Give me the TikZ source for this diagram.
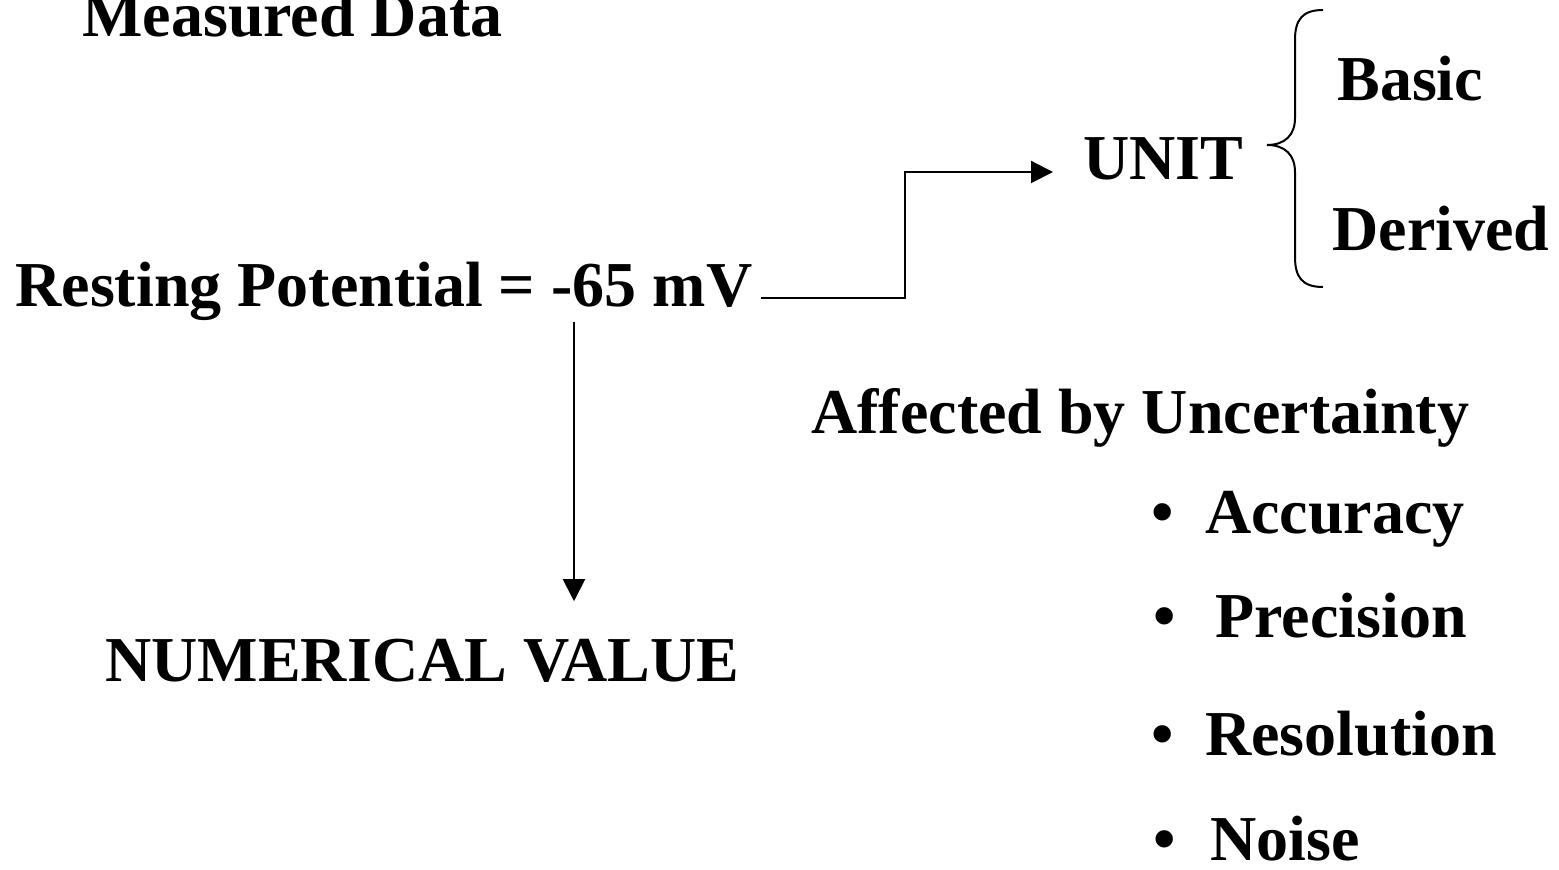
\documentclass[tikz,border=0pt]{standalone}
\usepackage{fontspec}
\setmainfont{Liberation Serif}
\usetikzlibrary{arrows.meta}

\tikzset{
  txt/.style={anchor=base west, inner sep=0pt, font=\fontsize{32}{38}\selectfont\bfseries},
  link/.style={line width=1pt, -{Triangle[length=11pt,width=11pt]}}
}

\begin{document}
\begin{tikzpicture}[x=0.5pt, y=-0.5pt]
  \useasboundingbox (0,0) rectangle (1559,870);
  \node[txt] (title) at (82,37) {Measured Data};
  \node[txt] (rest) at (15,307) {Resting Potential = -65 mV};
  \node[txt] (unit) at (1083,180) {UNIT};
  \node[txt] (basic) at (1337,101) {Basic};
  \node[txt] (derived) at (1332,251) {Derived};
  \node[txt] (value) at (105,682) {NUMERICAL VALUE};
  \node[txt] (affected) at (811,434) {Affected by Uncertainty};
  \foreach \word/\x/\y/\gap in {Accuracy/1205/534/15.8, Precision/1215/638/19.8, Resolution/1205/756/15.8, Noise/1210/861/17.3}
    \node[txt] (\word) at (\x,\y) {\llap{\textbullet\hspace{\gap pt}}\word};
  \coordinate (bend) at (905,172);
  \coordinate (down) at (574,0);
  \draw[link] ([xshift=4pt,yshift=4.5pt]rest.base east) -| (bend) -- ([xshift=-15pt]unit.west |- bend);
  \draw[link] (rest.south -| down) -- ([yshift=19pt]value.north -| down);
  \draw[line width=1pt] (1323,10) .. controls (1302,10) and (1295,20) .. (1295,40) -- (1295,118)
    .. controls (1295,135) and (1285,145) .. (1267,145)
    .. controls (1285,145) and (1295,155) .. (1295,172) -- (1295,257)
    .. controls (1295,277) and (1302,287) .. (1323,287);
\end{tikzpicture}
\end{document}
